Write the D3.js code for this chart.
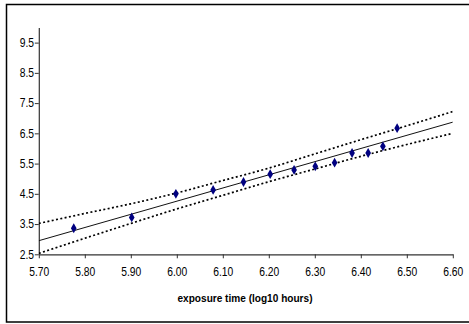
<!DOCTYPE html>
<html>
<head>
<meta charset="utf-8">
<script src="https://cdn.jsdelivr.net/npm/d3@7"></script>
<style>
  body { margin: 0; background: #fff; }
  svg text { font-family: 'Liberation Sans Narrow', 'Arial Narrow', 'Liberation Sans', sans-serif; fill: #000; }
</style>
</head>
<body>
<svg width="469" height="324"></svg>
<script>
// observed points (log10 hours vs response)
const obsX = [5.776, 5.902, 5.998, 6.079, 6.145, 6.203, 6.255, 6.301, 6.343, 6.381, 6.416, 6.448, 6.479];
const obsY = [3.36, 3.72, 4.50, 4.63, 4.89, 5.15, 5.29, 5.41, 5.53, 5.85, 5.85, 6.07, 6.67];

// fitted line end points
const fitX = [5.70, 6.60];
const fitY = [2.95, 6.87];

// band limits read along the x ticks
const bandX     = [5.70, 5.80, 5.90, 6.00, 6.10, 6.20, 6.30, 6.40, 6.50, 6.60];
const bandUpper = [3.52, 3.85, 4.17, 4.53, 4.94, 5.35, 5.82, 6.29, 6.75, 7.22];
const bandLower = [2.53, 3.03, 3.52, 4.00, 4.45, 4.90, 5.32, 5.74, 6.13, 6.50];

const xTicks = [5.70, 5.80, 5.90, 6.00, 6.10, 6.20, 6.30, 6.40, 6.50, 6.60];
const yTicks = [2.5, 3.5, 4.5, 5.5, 6.5, 7.5, 8.5, 9.5];

const svg = d3.select("svg");

// outer frame
svg.append("rect")
    .attr("x", 6.5).attr("y", 4.5)
    .attr("width", 480).attr("height", 317.5)
    .attr("fill", "none")
    .attr("stroke", "#000")
    .attr("stroke-width", 1.5);

const x = d3.scaleLinear().domain([5.70, 6.60]).range([38.8, 452.8]),
      y = d3.scaleLinear().domain([2.5, 10]).range([254.3, 27.5]);

svg.append("defs").append("clipPath").attr("id", "plot")
  .append("rect")
    .attr("x", x(5.70)).attr("y", y(10))
    .attr("width", x(6.60) - x(5.70)).attr("height", y(2.5) - y(10));

// axes
const xAxis = svg.append("g")
    .attr("transform", `translate(0,${y(2.5)})`)
    .call(d3.axisBottom(x).tickValues(xTicks).tickFormat(d3.format(".2f")).tickSize(4).tickSizeOuter(0));
const yAxis = svg.append("g")
    .attr("transform", `translate(${x(5.70)},0)`)
    .call(d3.axisLeft(y).tickValues(yTicks).tickFormat(d3.format(".1f")).tickSize(4).tickSizeOuter(0));

[xAxis, yAxis].forEach(g => {
  g.select(".domain").attr("stroke", "#333").attr("stroke-width", 1.2);
  g.selectAll(".tick line").attr("stroke", "#333");
  g.selectAll("text").style("font-size", "12px").attr("transform", "scale(0.86,1)");
});
xAxis.selectAll("text").attr("dy", "1.2em");
yAxis.selectAll("text").attr("x", -5.5);

svg.append("text")
    .attr("x", 245).attr("y", 302)
    .attr("text-anchor", "middle")
    .attr("textLength", 135)
    .attr("lengthAdjust", "spacingAndGlyphs")
    .style("font-size", "11.5px")
    .style("font-weight", "bold")
    .text("exposure time (log10 hours)");

const plot = svg.append("g").attr("clip-path", "url(#plot)");

const line = d3.line().x(d => x(d[0])).y(d => y(d[1]));

plot.append("path")
    .datum(d3.zip(bandX, bandUpper))
    .attr("d", line.curve(d3.curveMonotoneX))
    .attr("fill", "none").attr("stroke", "#000")
    .attr("stroke-width", 1.7).attr("stroke-dasharray", "2,2.4");

plot.append("path")
    .datum(d3.zip(bandX, bandLower))
    .attr("d", line.curve(d3.curveMonotoneX))
    .attr("fill", "none").attr("stroke", "#000")
    .attr("stroke-width", 1.7).attr("stroke-dasharray", "2,2.4");

plot.append("path")
    .datum(d3.zip(fitX, fitY))
    .attr("d", line.curve(d3.curveLinear))
    .attr("fill", "none").attr("stroke", "#111")
    .attr("stroke-width", 1);

svg.selectAll(".pt")
  .data(d3.zip(obsX, obsY))
  .enter().append("path")
    .attr("class", "pt")
    .attr("transform", d => `translate(${x(d[0])},${y(d[1])})`)
    .attr("d", d3.symbol().type(d3.symbolDiamond).size(28))
    .attr("fill", "#000080");
</script>
</body>
</html>
